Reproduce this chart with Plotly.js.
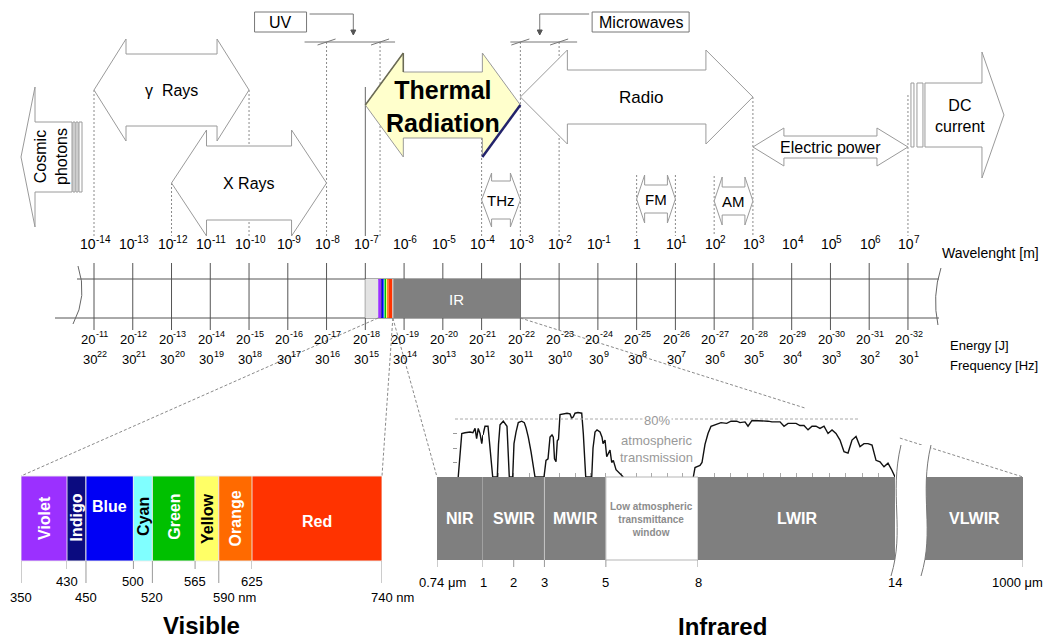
<!DOCTYPE html>
<html>
<head>
<meta charset="utf-8">
<title>Electromagnetic spectrum</title>
<script src="https://cdn.plot.ly/plotly-3.0.1.min.js"></script>
<style>html,body{margin:0;padding:0;background:#fff;overflow:hidden}#chart{width:1049px;height:639px}</style>
</head>
<body>
<div id="chart"></div>
<script>
// ================= DATA =================
const wavelengthExp = [-14,-13,-12,-11,-10,-9,-8,-7,-6,-5,-4,-3,-2,-1,0,1,2,3,4,5,6,7];
const energyExp = [-11,-12,-13,-14,-15,-16,-17,-18,-19,-20,-21,-22,-23,-24,-25,-26,-27,-28,-29,-30,-31,-32];
const frequencyExp = [22,21,20,19,18,17,16,15,14,13,12,11,10,9,8,7,6,5,4,3,2,1];

const regionNames = ['γ  Rays','X Rays','Thermal<br>Radiation','Radio','THz','FM','AM','Electric power'];
const regionFromExp = [-14,-12,-7,-3,-4,0,2,3];
const regionToExp = [-10,-8,-3,3,-3,1,3,7];

const bracketNames = ['UV','Microwaves'];
const bracketFromExp = [-8,-3];
const bracketToExp = [-6.62,-2];

const uvBandExp = [-7,-6.67];
const visibleStripExp = [-6.67,-6.29];
const irBandExp = [-6.29,-3];
const cosmicEdgeExp = -14;
const dcEdgeExp = 7;

const visibleNames = ['Violet','Indigo','Blue','Cyan','Green','Yellow','Orange','Red'];
const visibleEdgesNm = [350,430,450,500,520,565,590,625,740];
const visibleTicksUpperNm = [430,500,565,625];
const visibleTicksLowerNm = [350,450,520,590,740];

const irNames = ['NIR','SWIR','MWIR','Low atmospheric<br>transmittance<br>window','LWIR','VLWIR'];
const irEdgesUm = [0.74,1,3,5,8,14,1000];
const irTicksUm = [0.74,1,2,3,5,8,14,1000];

const transNirUm  = [0.86,0.87,0.88,0.898,0.927,0.943,0.955,0.964,0.973,0.983,0.993,1.0];
const transNirPct = [0,30,60,61,62,61,67,53,67,60,46,58];
const transUm = [1.0,1.065,1.163,1.228,1.316, 1.466,1.505,1.554,1.661,1.781,1.824,1.856,
  1.967,2.009,2.075,2.149,2.26,2.345,2.4,2.475,2.563,2.693,
  2.986,3.051,3.117,3.182,3.247,3.289,3.328,3.377,3.419,3.458,3.507,3.605,3.735,3.833,3.888,3.94,3.996,4.093,4.214,4.266,4.305,4.344,
  4.54,4.582,4.647,4.712,4.81,4.875,4.908,4.973,5.028,5.087,5.135,5.191,5.243,5.331,5.461,5.569, null,
  7.848,7.903,8.061,8.122,8.213,8.305,8.396,8.548,8.701,8.874,9.005,9.179,9.279,9.432,9.523,9.645,9.889,10.132,10.254,10.498,10.62,10.741,10.985,11.107,
  11.229,11.351,11.472,11.594,11.716,11.838,11.96,12.082,12.203,12.325,12.447,12.569,12.691,12.813,12.934,13.056,13.178,13.3,13.422,13.543,13.665,13.787,13.909,14.0];
const transPct = [58,70,70,40,0, 0,45,72,77,70,35,0,
  0,46,62,75,77,75,68,55,35,0,
  0,23,25,55,58,55,25,21,50,52,86,87,88,87,81,83,88,89,88,60,20,0,
  0,40,62,65,62,55,46,51,28,33,37,20,23,10,5,0, null,
  0,13,16,20,45,60,70,72,75,74,77,77,75,76,70,78,78,77,76,76,70,74,74,71,
  71,65,70,70,67,70,60,65,60,51,35,33,51,56,42,46,46,44,23,21,14,19,9,0];
const transRefPct = 80;
const transTickPct = [20,40,60];

// ================= GEOMETRY & STYLE =================
const W = 1049, H = 639;
const FONT = 'Liberation Sans, Arial, Helvetica, sans-serif';
const PX_PER_DECADE = 38.76, FIRST_TICK_PX = 94;

const axes = {};
axes.x = {range:[wavelengthExp[0] - FIRST_TICK_PX/PX_PER_DECADE, wavelengthExp[0] + (W-FIRST_TICK_PX)/PX_PER_DECADE], dom:[0,W]};
const visSegs = [
  {id:'x2', range:[visibleEdgesNm[0], visibleEdgesNm[1]], dom:[21,67]},
  {id:'x3', range:[visibleEdgesNm[1], visibleEdgesNm[7]], dom:[67,252]},
  {id:'x4', range:[visibleEdgesNm[7], visibleEdgesNm[8]], dom:[252,382]}];
const irSegs = [
  {id:'x5', range:[irEdgesUm[0], irEdgesUm[1]], dom:[437,483]},
  {id:'x6', range:[irEdgesUm[1], irEdgesUm[4]], dom:[483,698]},
  {id:'x9', range:[irEdgesUm[4], irEdgesUm[5]], dom:[698,895]},
  {id:'x7', range:[irEdgesUm[5], irEdgesUm[6]], dom:[925,1023]}];
visSegs.concat(irSegs).forEach(s => axes[s.id] = {range:s.range, dom:s.dom});

function toPx(id, v){ const a = axes[id]; return a.dom[0] + (v - a.range[0])/(a.range[1]-a.range[0])*(a.dom[1]-a.dom[0]); }
function pxLen(id, px){ const a = axes[id]; return px*(a.range[1]-a.range[0])/(a.dom[1]-a.dom[0]); }
axes.x8 = {range:[visibleEdgesNm[0], visibleEdgesNm[visibleEdgesNm.length-1]],
           dom:[toPx('x', visibleStripExp[0]), toPx('x', visibleStripExp[1])]};
function segFor(segs, a, b){ if (b === undefined) b = a; const s = segs.find(s => a >= s.range[0]-1e-9 && b <= s.range[1]+1e-9); return s.id; }

const shapes = [], annotations = [];
const f = v => (typeof v === 'number' ? +v.toFixed(5) : v);
function line(xref, x0, y0, x1, y1, color, width, dash, yref){
  shapes.push({type:'line', xref, yref:yref||'y', x0, y0, x1, y1, line:{color, width:width||1, dash:dash||'solid'}});
}
function rect(xref, x0, x1, y0, y1, fill, lineColor, lw){
  shapes.push({type:'rect', xref, yref:'y', x0, x1, y0, y1, fillcolor:fill,
    line:{color:lineColor||'rgba(0,0,0,0)', width: lineColor ? (lw||1) : 0}});
}
function poly(xref, pts, fill, color, width){
  const d = 'M ' + pts.map(p => f(p[0]) + ',' + f(p[1])).join(' L ') + ' Z';
  shapes.push({type:'path', xref, yref:'y', path:d, fillcolor:fill, line:{color, width}});
}
function rawPath(xref, d, fill, color, width){
  shapes.push({type:'path', xref, yref:'y', path:d, fillcolor:fill||'rgba(0,0,0,0)', line:{color, width}});
}
function text(xref, x, y, t, size, opts){
  annotations.push(Object.assign({xref, yref:'y', x, y, text:t, showarrow:false, xanchor:'center', yanchor:'middle',
    font:{family:FONT, size, color:'#000'}}, opts||{}));
}
// base + superscript drawn as two real texts with explicit sizes
const CHAR_EM = {'-':0.333, '.':0.278, ' ':0.278};
function textWidth(s, size){ let w = 0; for (const c of s) w += (CHAR_EM[c] !== undefined ? CHAR_EM[c] : 0.556); return w*size; }
function supText(xref, x, y, base, exp, size){
  const es = Math.round(size*0.72);
  const wb = textWidth(base, size), we = textWidth(exp, es), left = -(wb+we)/2;
  text(xref, x, y, base, size, {xanchor:'left', xshift:left - 1});
  text(xref, x, y, exp, es, {xanchor:'left', xshift:left + wb - 1, yshift:Math.round(size*0.38)});
}

// ---- style arrays for the top arrows ----
const regionDrawOrder = [0,1,3,2,4,5,6,7];
const regionCy        = [90,183,105,97,200,199,201,147];
const regionHeadHalf  = [51,53,52,47,27,24,24,19];
const regionShaftHalf = [36,37,33,27,19,14,14,11];
const regionHeadLen   = [32,35,38,47,10,8,8,31];
const regionFont      = [16,16,25,17,15,15,15,16];
const regionFill      = ['#fff','#fff','#ffffcc','#fff','#fff','#fff','#fff','#fff'];
const regionGuideTop  = [[90,90],[183,183],[null,null],[97,97],[138,200],[175,175],[176,176],[147,147]];
const GUIDE_BOTTOM = 236, BRACKET_Y = 42;
const ARROW_LINE = '#9a9a9a';

// ---- guides (dashed verticals) ----
const guides = {};
function addGuide(e, top){ if (top === null) return; const k = e.toFixed(3); if (!(k in guides) || top < guides[k].top) guides[k] = {e, top}; }
regionFromExp.forEach((v,i) => { addGuide(v, regionGuideTop[i][0]); addGuide(regionToExp[i], regionGuideTop[i][1]); });
bracketFromExp.forEach((v,i) => { addGuide(v, BRACKET_Y); addGuide(bracketToExp[i], BRACKET_Y); });
addGuide(dcEdgeExp, 95);
Object.values(guides).forEach(g => line('x', g.e, g.top, g.e, GUIDE_BOTTOM, '#8a8a8a', 1, '2px,2px'));
line('x', regionFromExp[2], 87, regionFromExp[2], GUIDE_BOTTOM, '#666', 1);

// ---- cosmic photons (left arrow) ----
(function(){
  const b = cosmicEdgeExp, L = p => b - pxLen('x', p), cy = 157, sh = 35, hh = 70;
  poly('x', [[L(73),cy],[L(59),cy-hh],[L(59),cy-sh],[L(22),cy-sh],[L(22),cy+sh],[L(59),cy+sh],[L(59),cy+hh]], '#fff', ARROW_LINE, 1);
  [[21,19],[18,16],[15,12]].forEach(p => rect('x', L(p[0]), L(p[1]), cy-sh, cy+sh, '#fff', ARROW_LINE, 1));
  text('x', L(43), cy, 'Cosmic<br>photons', 16, {textangle:-90});
})();

// ---- DC current (right arrow) ----
(function(){
  const b = dcEdgeExp, R = p => b + pxLen('x', p), cy = 115, sh = 32, hh = 63;
  [[3,6],[9,15]].forEach(p => rect('x', R(p[0]), R(p[1]), cy-sh, cy+sh, '#fff', ARROW_LINE, 1));
  poly('x', [[R(17),cy-sh],[R(74),cy-sh],[R(74),cy-hh],[R(96),cy],[R(74),cy+hh],[R(74),cy+sh],[R(17),cy+sh]], '#fff', ARROW_LINE, 1);
  text('x', R(52), cy+1, 'DC<br>current', 16);
})();

// ---- double arrows ----
regionDrawOrder.forEach(i => {
  const x0 = regionFromExp[i], x1 = regionToExp[i], cy = regionCy[i];
  const hh = regionHeadHalf[i], sh = regionShaftHalf[i], h = pxLen('x', regionHeadLen[i]);
  poly('x', [[x0,cy],[x0+h,cy-hh],[x0+h,cy-sh],[x1-h,cy-sh],[x1-h,cy-hh],[x1,cy],
             [x1-h,cy+hh],[x1-h,cy+sh],[x0+h,cy+sh],[x0+h,cy+hh]], regionFill[i], ARROW_LINE, 1);
  if (i === 2) {
    line('x', x1, cy, x1-h, cy+hh, '#23236b', 2.5);
    line('x', x0, cy, x0+h, cy-hh, '#6b6b55', 1.5);
    line('x', x0+h, cy-hh, x0+h, cy-sh, '#6b6b55', 1.5);
    text('x', (x0+x1)/2, cy+1, '<b>' + regionNames[i] + '</b>', regionFont[i]);
  } else {
    text('x', (x0+x1)/2 + (i === 3 ? pxLen('x', 4) : 0), cy, regionNames[i], regionFont[i]);
  }
});

// ---- UV / Microwaves brackets ----
const bracketPadL = [22,10], bracketPadR = [15,18], bracketBoxW = [52,97], bracketBoxSide = ['left','right'];
bracketFromExp.forEach((a,i) => {
  const b = bracketToExp[i], mid = (a+b)/2;
  line('x', a - pxLen('x', bracketPadL[i]), BRACKET_Y, b + pxLen('x', bracketPadR[i]), BRACKET_Y, '#777', 1);
  [a,b].forEach(e => line('x', e - pxLen('x', 9), BRACKET_Y+3, e + pxLen('x', 9), BRACKET_Y-3, '#777', 1));
  let bx0, bx1;
  if (bracketBoxSide[i] === 'left') { bx1 = a - pxLen('x', 20); bx0 = bx1 - pxLen('x', bracketBoxW[i]); }
  else { bx0 = b + pxLen('x', 33); bx1 = bx0 + pxLen('x', bracketBoxW[i]); }
  rect('x', bx0, bx1, 12, 32, '#fff', '#777', 1);
  text('x', (bx0+bx1)/2, 22, bracketNames[i], 16);
  const cs = bracketBoxSide[i] === 'left' ? bx1 + pxLen('x', 3) : bx0 - pxLen('x', 3);
  rawPath('x', 'M ' + f(cs) + ',14 L ' + f(mid) + ',14 L ' + f(mid) + ',31', null, '#777', 1);
  poly('x', [[mid - pxLen('x', 2.5), 30],[mid + pxLen('x', 2.5), 30],[mid, 35]], '#555', '#555', 1);
});

// ---- main scale bar ----
const BAR_T = 279, BAR_B = 318;
wavelengthExp.forEach(e => line('x', e, 263, e, 330, '#555', 1));
const first = wavelengthExp[0], last = wavelengthExp[wavelengthExp.length-1];
line('x', first - pxLen('x', 17), BAR_T, last + pxLen('x', 31), BAR_T, '#555', 1);
line('x', first - pxLen('x', 39), BAR_B, last + pxLen('x', 31), BAR_B, '#555', 1);
rawPath('x', 'M ' + f(first - pxLen('x',16)) + ',266 Q ' + f(first - pxLen('x',6)) + ',296 ' + f(first - pxLen('x',21)) + ',324', null, '#666', 1);
rawPath('x', 'M ' + f(last + pxLen('x',33)) + ',268 Q ' + f(last + pxLen('x',24)) + ',296 ' + f(last + pxLen('x',30)) + ',325', null, '#666', 1);
rect('x', uvBandExp[0], uvBandExp[1], BAR_T, BAR_B, '#e3e3e3');
const visibleColors = ['#9b30ff','#0b0b80','#0000f5','#80ffff','#00c000','#ffff66','#ff6a00','#ff3300'];
visibleNames.forEach((n,i) => rect('x8', visibleEdgesNm[i], visibleEdgesNm[i+1], BAR_T, BAR_B, visibleColors[i]));
rect('x', irBandExp[0], irBandExp[1], BAR_T, BAR_B, '#808080');
line('x', irBandExp[0], BAR_T, irBandExp[0], BAR_B, '#dddddd', 1);
text('x', (irBandExp[0]+irBandExp[1])/2, 299, 'IR', 15, {font:{family:FONT, size:15, color:'#fff'}});

// labels of the scale
wavelengthExp.forEach((e,i) => {
  if (e === 0) text('x', e, 244, '1', 14); else supText('x', e, 244, '10', String(e), 14);
  supText('x', e, 339, '20', String(energyExp[i]), 13);
  supText('x', e, 359, '30', String(frequencyExp[i]), 13);
});
const sideX = last + pxLen('x', 32);
text('x', sideX, 253, 'Wavelenght [m]', 14, {xanchor:'left'});
text('x', sideX + pxLen('x', 8), 345, 'Energy [J]', 13, {xanchor:'left'});
text('x', sideX + pxLen('x', 8), 365, 'Frequency [Hz]', 13, {xanchor:'left'});

// ---- connectors (dashed) ----
const VIS_T = 476, VIS_B = 561, IR_T = 477, IR_B = 560;
function conn(p0, p1){ line('paper', p0[0]/W, p0[1], p1[0]/W, p1[1], '#8a8a8a', 1, '3px,2px'); }
const nmLast = visibleEdgesNm[visibleEdgesNm.length-1];
conn([toPx('x8', visibleEdgesNm[0]), BAR_B], [toPx(segFor(visSegs, visibleEdgesNm[0]), visibleEdgesNm[0]), VIS_T]);
conn([toPx('x8', nmLast), BAR_B], [toPx(segFor(visSegs, nmLast), nmLast), VIS_T]);
conn([toPx('x8', nmLast), BAR_B], [toPx('x5', irEdgesUm[0]), IR_T]);
(function(){
  const umLast = irEdgesUm[irEdgesUm.length-1];
  const a = [toPx('x', irBandExp[1]), BAR_B], b = [toPx('x7', umLast), IR_T];
  const lerp = t => [a[0] + (b[0]-a[0])*t, a[1] + (b[1]-a[1])*t];
  conn(a, lerp(0.567)); conn(lerp(0.755), b);
})();

// ---- visible panel ----
const visTextColor = ['#fff','#fff','#fff','#000','#fff','#000','#fff','#fff'];
const visTextAngle = [-90,-90,0,-90,-90,-90,-90,0];
const visTextY = [518,517,506,516,517,519,518,521];
visibleNames.forEach((n,i) => {
  const a = visibleEdgesNm[i], b = visibleEdgesNm[i+1], id = segFor(visSegs, a, b);
  rect(id, a, b, VIS_T, VIS_B, visibleColors[i], 'rgba(235,235,235,0.9)', 1);
  text(id, (a+b)/2, visTextY[i], '<b>' + n + '</b>', 16, {textangle:visTextAngle[i], font:{family:FONT, size:16, color:visTextColor[i]}});
});
visibleTicksUpperNm.forEach(v => {
  const id = segFor(visSegs, v);
  line(id, v, VIS_B, v, 569, '#999', 1);
  text(id, v, 581, String(v), 13);
});
const visUnitIdx = [3,4];
visibleTicksLowerNm.forEach((v,i) => {
  const id = segFor(visSegs, v);
  line(id, v, VIS_B, v, 583, '#999', 1);
  if (visUnitIdx.includes(i)) text(id, v, 597, v + ' nm', 13, {xanchor:'left', xshift: i === 4 ? -13 : -8});
  else text(id, v, 597, String(v), 13);
});
text('paper', (toPx('x2', visibleEdgesNm[0]) + toPx('x4', nmLast))/2 / W, 625, '<b>Visible</b>', 24);

// ---- infrared panel ----
const irFill = ['#7f7f7f','#7f7f7f','#7f7f7f','#ffffff','#7f7f7f','#7f7f7f'];
irNames.forEach((n,i) => {
  const a = irEdgesUm[i], b = irEdgesUm[i+1], id = segFor(irSegs, a, b);
  if (irFill[i] === '#ffffff') rect(id, a, b, IR_T, IR_B, '#fff', '#b5b5b5', 1);
  else rect(id, a, b, IR_T, IR_B, irFill[i]);
  if (irFill[i] === '#ffffff')
    text(id, (a+b)/2, 519, '<b>' + n + '</b>', 10, {font:{family:FONT, size:10, color:'#8c8c8c'}});
  else
    text(id, (a+b)/2, 518, '<b>' + n + '</b>', 16, {font:{family:FONT, size:16, color:'#fff'}});
});
[irEdgesUm[1], irEdgesUm[2]].forEach(v => line(segFor(irSegs, v), v, IR_T, v, IR_B, '#c4c4c4', 1));
irTicksUm.forEach((v,i) => {
  const id = segFor(irSegs, v);
  line(id, v, IR_B, v, 567, '#999', 1);
  if (i === 0) text(id, v, 582, v + ' μm', 13, {xanchor:'left', xshift:-20});
  else if (i === irTicksUm.length-1) text(id, v, 582, v + ' μm', 13, {xanchor:'right', xshift:22});
  else text(id, v, 582, String(v), 13);
});
// axis break
(function(){
  const bx = toPx('x9', irEdgesUm[5]), P = (dx, y) => f((bx+dx)/W) + ',' + y;
  const g = 30;
  const fill = 'M ' + P(6,445) + ' C ' + P(-6,495) + ' ' + P(10,530) + ' ' + P(-4,576) +
               ' L ' + P(-4+g,576) + ' C ' + P(10+g,530) + ' ' + P(-6+g,495) + ' ' + P(6+g,445) + ' Z';
  rawPath('paper', fill, '#fff', 'rgba(0,0,0,0)', 0);
  [0, g].forEach(o => rawPath('paper', 'M ' + P(6+o,445) + ' C ' + P(-6+o,495) + ' ' + P(10+o,530) + ' ' + P(-4+o,576), null, '#777', 1));
})();
// 80% reference line
shapes.push({type:'line', xref:'paper', yref:'y2', x0:455/W, x1:860/W, y0:transRefPct, y1:transRefPct,
  line:{color:'#aaaaaa', width:1, dash:'3px,2px'}});
const winMid = (irEdgesUm[3] + irEdgesUm[4])/2;
text('x6', winMid, 420, transRefPct + '%', 13, {xshift:5, bgcolor:'#fff', font:{family:FONT, size:13, color:'#999'}});
text('x6', winMid, 449, 'atmospheric<br>transmission', 13, {xshift:5, font:{family:FONT, size:13, color:'#999'}});
text('paper', ((toPx('x5', irEdgesUm[0]) + toPx('x7', irEdgesUm[6]))/2 - 8)/W, 626, '<b>Infrared</b>', 24);

// ================= TRACES =================
const traces = [
  {type:'scatter', mode:'lines', x:transNirUm, y:transNirPct, xaxis:'x5', yaxis:'y2',
   line:{color:'#111', width:1.4}, hoverinfo:'skip', showlegend:false},
  {type:'scatter', mode:'lines', x:transUm, y:transPct, xaxis:'x6', yaxis:'y2', connectgaps:false,
   line:{color:'#111', width:1.4}, hoverinfo:'skip', showlegend:false},
  {type:'scatter', mode:'lines', x:transUm, y:transPct, xaxis:'x9', yaxis:'y2', connectgaps:false,
   line:{color:'#111', width:1.4}, hoverinfo:'skip', showlegend:false}
];
Object.keys(axes).forEach(id => traces.push({type:'scatter', mode:'lines', x:axes[id].range, y:[-50,-50],
  xaxis:id, yaxis:'y', line:{width:0, color:'rgba(0,0,0,0)'}, hoverinfo:'skip', showlegend:false}));

// ================= LAYOUT =================
const layout = {
  width:W, height:H, margin:{l:0, r:0, t:0, b:0, pad:0},
  paper_bgcolor:'#fff', plot_bgcolor:'rgba(0,0,0,0)', showlegend:false, hovermode:false,
  font:{family:FONT, size:13, color:'#000'},
  yaxis:{range:[H,0], autorange:false, domain:[0,1], visible:false, fixedrange:true},
  yaxis2:{range:[-(H-IR_T)/0.725, IR_T/0.725], autorange:false, domain:[0,1], anchor:'free', position:457/W, side:'left',
    visible:true, showgrid:false, zeroline:false, showline:false, showticklabels:false,
    ticks:'outside', ticklen:4, tickcolor:'#999', tickmode:'array', tickvals:transTickPct, fixedrange:true},
  shapes, annotations
};
Object.keys(axes).forEach(id => {
  const a = axes[id], name = 'xaxis' + id.slice(1);
  layout[name] = {range:a.range, autorange:false, domain:[a.dom[0]/W, a.dom[1]/W], anchor:'y',
    visible:false, showgrid:false, zeroline:false, fixedrange:true};
});
['xaxis6','xaxis9'].forEach((n,k) => Object.assign(layout[n], {visible:true, anchor:'free', position:1 - IR_T/H,
  showline:false, showticklabels:false, ticks:'inside', ticklen:4, tickcolor:'#aaa', tickmode:'linear',
  tick0:irEdgesUm[k === 0 ? 1 : 4], dtick:0.5}));

Plotly.newPlot('chart', traces, layout, {staticPlot:true, displayModeBar:false});
</script>
</body>
</html>
